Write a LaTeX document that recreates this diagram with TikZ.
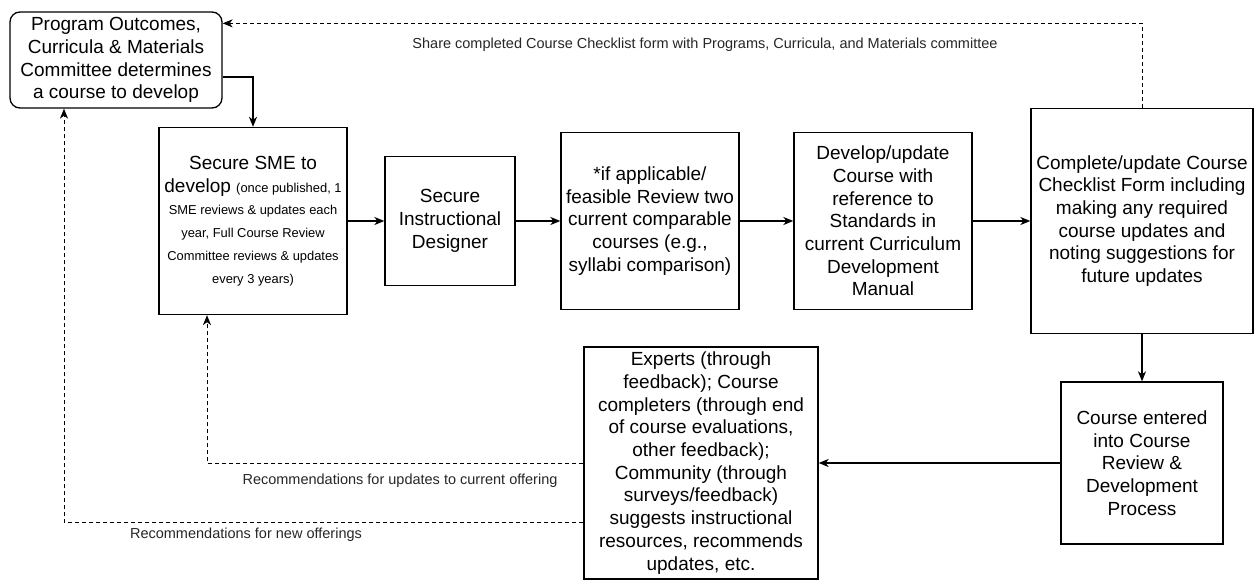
\documentclass[tikz,border=0pt]{standalone}
\usepackage{fontspec}
\setmainfont{Liberation Sans}
\usetikzlibrary{arrows.meta}
\begin{document}
\begin{tikzpicture}[x=1pt,y=-1pt,
  box/.style={draw=black,line width=1.3pt,inner sep=0pt,align=center,
    font=\fontsize{19}{22.7}\selectfont},
  arr/.style={line width=1.3pt,-{Stealth[length=10pt,width=8pt,inset=3pt]}},
  dasharr/.style={line width=0.9pt,dash pattern=on 4pt off 3pt,-{Stealth[length=10pt,width=8pt,inset=3pt]}},
  lbl/.style={font=\fontsize{14.5}{17}\selectfont,text=black!85,inner sep=0pt}]
\useasboundingbox (0,0) rectangle (1254,580);
\newcommand{\smalltxt}{\fontsize{12.9}{22.7}\selectfont}
\node[box,rounded corners=10pt,minimum width=212pt,minimum height=96pt] (tl) at (116,60)
  {Program Outcomes,\\Curricula \& Materials\\Committee determines\\a course to develop};
\node[box,minimum width=188pt,minimum height=187pt] (sme) at (253,221)
  {Secure SME to\\develop {\smalltxt(once published, 1}\\{\smalltxt SME reviews \& updates each}\\{\smalltxt year, Full Course Review}\\{\smalltxt Committee reviews \& updates}\\{\smalltxt every 3 years)}};
\node[box,minimum width=130pt,minimum height=129pt] (inst) at (450,221)
  {Secure\\Instructional\\Designer};
\node[box,minimum width=178pt,minimum height=177pt] (rev) at (650,221)
  {*if applicable/\\feasible Review two\\current comparable\\courses (e.g.,\\syllabi comparison)};
\node[box,minimum width=178pt,minimum height=177pt] (dev) at (883,221)
  {Develop/update\\Course with\\reference to\\Standards in\\current Curriculum\\Development\\Manual};
\node[box,minimum width=222pt,minimum height=225pt] (comp) at (1142,221)
  {Complete/update Course\\Checklist Form including\\making any required\\course updates and\\noting suggestions for\\future updates};
\node[box,minimum width=162pt,minimum height=162pt] (ent) at (1142,463)
  {Course entered\\into Course\\Review \&\\Development\\Process};
\node[box,minimum width=234pt,minimum height=232pt] (exp) at (701,463)
  {Experts (through\\feedback); Course\\completers (through end\\of course evaluations,\\other feedback);\\Community (through\\surveys/feedback)\\suggests instructional\\resources, recommends\\updates, etc.};

\draw[arr] ([yshift=-17pt]tl.east) -| (sme.north);
\draw[arr] (sme) -- (inst);
\draw[arr] (inst) -- (rev);
\draw[arr] (rev) -- (dev);
\draw[arr] (dev) -- (comp);
\draw[arr] (comp) -- (ent);
\draw[arr] (ent) -- (exp);
\draw[dasharr] (comp.north) |- ([yshift=-12pt]tl.north east);
\draw[dasharr] (exp.west) -| ([xshift=-46pt]sme.south);
\draw[dasharr] ([yshift=-59pt]exp.west) -| ([xshift=-52pt]tl.south);

\node[lbl] (l1) at (705,45) {Share completed Course Checklist form with Programs, Curricula, and Materials committee};
\node[lbl] (l2) at (400,481) {Recommendations for updates to current offering};
\node[lbl] (l3) at (246,535) {Recommendations for new offerings};
\end{tikzpicture}
\end{document}
